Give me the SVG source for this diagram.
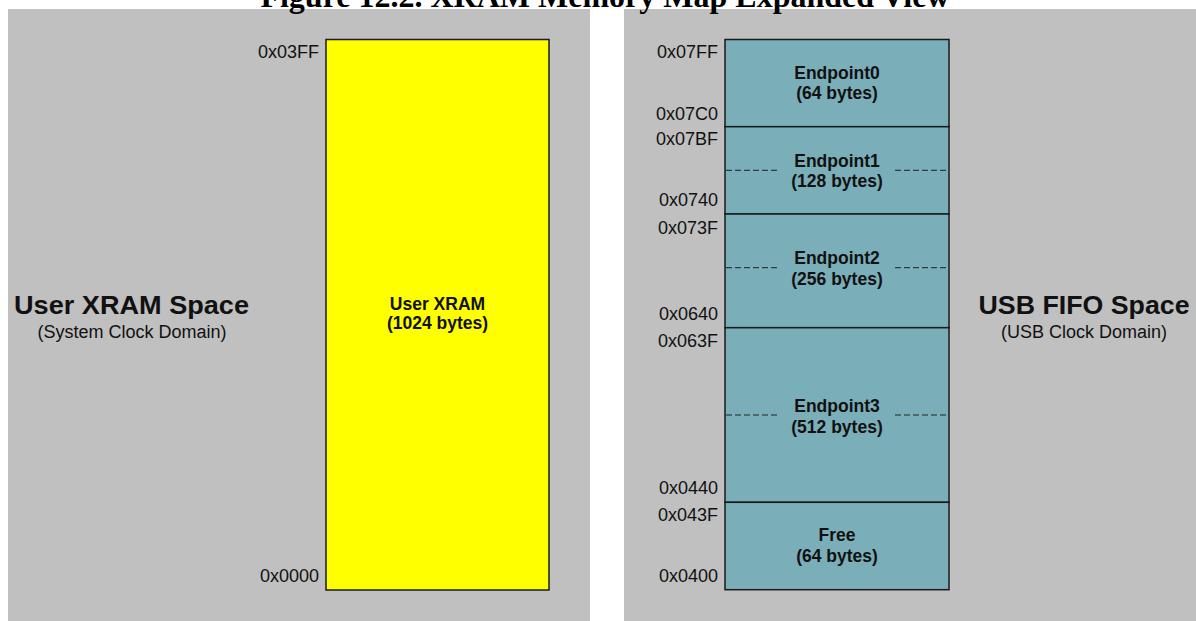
<svg xmlns="http://www.w3.org/2000/svg" width="1196" height="621" viewBox="0 0 1196 621">
<style>
.panel{fill:#c0c0c0;stroke:none}
.blk{stroke:#1a1a1a;stroke-width:1.5}
.yel{fill:#ffff00}
.teal{fill:#7aaeb8}
.addr{font-family:"Liberation Sans",Arial,sans-serif;font-size:18px;fill:#111;text-anchor:end}
.lbl{font-family:"Liberation Sans",Arial,sans-serif;font-size:17.5px;font-weight:bold;fill:#111;text-anchor:middle}
.big{font-family:"Liberation Sans",Arial,sans-serif;font-size:25px;font-weight:bold;fill:#111;text-anchor:middle}
.sub{font-family:"Liberation Sans",Arial,sans-serif;font-size:18px;fill:#111;text-anchor:middle}
.title{font-family:"Liberation Serif","Times New Roman",serif;font-size:32px;font-weight:bold;fill:#000;text-anchor:middle}
.dash{stroke:#222;stroke-width:1;stroke-dasharray:6 3;fill:none}
</style>
<rect x="0" y="0" width="1196" height="621" fill="#ffffff"/>
<g id="panel-left">
<rect class="panel" x="8" y="9" width="582" height="612"/>
<text class="big" x="131.5" y="314" textLength="235" lengthAdjust="spacingAndGlyphs">User XRAM Space</text>
<text class="sub" x="132" y="338">(System Clock Domain)</text>
</g>
<g id="panel-right">
<rect class="panel" x="624" y="9" width="572" height="612"/>
<text class="big" x="1084" y="314" textLength="211" lengthAdjust="spacingAndGlyphs">USB FIFO Space</text>
<text class="sub" x="1084" y="338">(USB Clock Domain)</text>
</g>
<text class="title" x="605" y="7">Figure 12.2. XRAM Memory Map Expanded View</text>
<g id="user-xram">
<rect class="blk yel" x="326" y="39.5" width="223" height="550.5"/>
<text class="lbl" x="437.5" y="310">User XRAM</text>
<text class="lbl" x="437.5" y="329">(1024 bytes)</text>
<text class="addr" x="319" y="58">0x03FF</text>
<text class="addr" x="319" y="582">0x0000</text>
</g>
<g id="endpoint0">
<rect class="blk teal" x="725" y="39.5" width="224" height="87.2"/>
<text class="lbl" x="837" y="78.5">Endpoint0</text>
<text class="lbl" x="837" y="98.5">(64 bytes)</text>
<text class="addr" x="718" y="58">0x07FF</text>
<text class="addr" x="718" y="119.5">0x07C0</text>
</g>
<g id="endpoint1">
<rect class="blk teal" x="725" y="126.7" width="224" height="87.3"/>
<text class="lbl" x="837" y="166.5">Endpoint1</text>
<text class="lbl" x="837" y="187">(128 bytes)</text>
<text class="addr" x="718" y="145">0x07BF</text>
<text class="addr" x="718" y="205.5">0x0740</text>
</g>
<g id="endpoint2">
<rect class="blk teal" x="725" y="214" width="224" height="113.7"/>
<text class="lbl" x="837" y="264">Endpoint2</text>
<text class="lbl" x="837" y="284.5">(256 bytes)</text>
<text class="addr" x="718" y="233.5">0x073F</text>
<text class="addr" x="718" y="320">0x0640</text>
</g>
<g id="endpoint3">
<rect class="blk teal" x="725" y="327.7" width="224" height="174.6"/>
<text class="lbl" x="837" y="412">Endpoint3</text>
<text class="lbl" x="837" y="432.5">(512 bytes)</text>
<text class="addr" x="718" y="346.5">0x063F</text>
<text class="addr" x="718" y="494">0x0440</text>
</g>
<g id="free">
<rect class="blk teal" x="725" y="502.3" width="224" height="87.4"/>
<text class="lbl" x="837" y="541">Free</text>
<text class="lbl" x="837" y="561.5">(64 bytes)</text>
<text class="addr" x="718" y="520.5">0x043F</text>
<text class="addr" x="718" y="581.5">0x0400</text>
</g>
<g id="connectors">
<line class="dash" x1="726" y1="170.3" x2="779" y2="170.3"/>
<line class="dash" x1="895" y1="170.3" x2="948" y2="170.3"/>
<line class="dash" x1="726" y1="267.7" x2="779" y2="267.7"/>
<line class="dash" x1="895" y1="267.7" x2="948" y2="267.7"/>
<line class="dash" x1="726" y1="415" x2="779" y2="415"/>
<line class="dash" x1="895" y1="415" x2="948" y2="415"/>
</g>
</svg>
